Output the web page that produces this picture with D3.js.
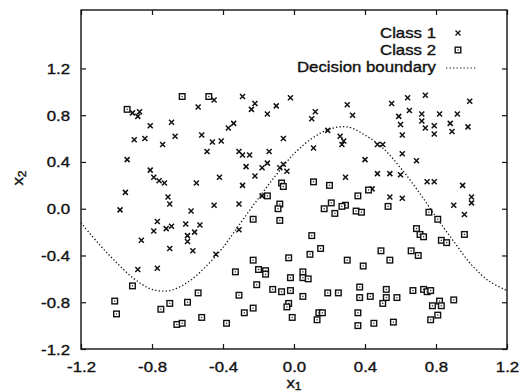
<!DOCTYPE html>
<html>
<head>
<meta charset="utf-8">
<script src="https://cdn.jsdelivr.net/npm/d3@7"></script>
<style>
body{margin:0;background:#fff;}
svg text{font-family:"Liberation Sans",Arial,sans-serif;font-size:14px;fill:#111;stroke:#111;stroke-width:0.35px;}
</style>
</head>
<body>
<div id="chart"></div>
<script>
//class 1 samples, drawn as crosses [x1,x2]
let class1Points=[
[-0.45,0.93],[-0.54,0.87],[-0.91,0.82],[-0.87,0.83],[-0.88,0.79],[-0.81,0.71],[-0.69,0.74],
[-0.90,0.59],[-0.84,0.60],[-0.67,0.62],[-0.74,0.55],[-0.52,0.63],[-0.46,0.57],[-0.41,0.58],
[-0.49,0.49],[-0.94,0.42],[-0.81,0.33],[-0.79,0.27],[-0.76,0.24],[-0.73,0.22],[-0.55,0.22],
[-0.42,0.27],[-0.95,0.14],[-0.71,0.10],[-0.70,0.04],[-0.98,-0.01],[-0.58,-0.02],[-0.45,0.03],
[-0.29,0.96],[-0.02,0.95],[-0.22,0.90],[-0.24,0.85],[-0.10,0.88],[-0.15,0.81],[-0.34,0.73],
[-0.37,0.69],[0.30,0.89],[0.12,0.83],[0.10,0.77],[0.33,0.80],[0.19,0.67],[-0.06,0.60],
[0.26,0.62],[0.28,0.58],[0.27,0.55],[0.11,0.52],[-0.31,0.49],[-0.29,0.46],[-0.25,0.46],
[-0.14,0.49],[0.40,0.42],[-0.27,0.36],[-0.18,0.35],[-0.15,0.39],[-0.06,0.38],[-0.08,0.35],
[-0.04,0.32],[-0.22,0.28],[0.29,0.27],[-0.29,0.20],[-0.18,0.11],[-0.31,0.04],
[-0.77,-0.11],[-0.79,-0.19],[-0.72,-0.17],[-0.69,-0.15],[-0.61,-0.13],[-0.53,-0.14],[-0.56,-0.20],
[-0.60,-0.23],[-0.60,-0.28],[-0.86,-0.27],[-0.70,-0.34],[-0.57,-0.36],[-0.44,-0.39],[-0.31,-0.18],
[-0.88,-0.52],[-0.77,-0.51],
[0.55,0.90],[0.64,0.95],[0.74,0.97],[0.99,0.92],[0.59,0.79],[0.60,0.72],[0.61,0.63],
[0.65,0.84],[0.72,0.81],[0.72,0.75],[0.82,0.81],[0.74,0.69],[0.79,0.71],[0.79,0.64],
[0.88,0.73],[0.89,0.66],[0.92,0.81],[0.98,0.70],[0.47,0.55],[0.50,0.55],[0.61,0.47],
[0.69,0.41],[0.47,0.30],[0.54,0.30],[0.60,0.29],[0.75,0.23],[0.79,0.23],[0.95,0.20],
[0.44,0.17],[0.54,0.10],[0.61,0.09],[1.00,0.10],[1.00,0.05],[0.90,0.03],[0.96,-0.05]
];

//class 2 samples, drawn as boxes [x1,x2]
let class2Points=[
[-0.63,0.96],[-0.48,0.96],[-0.94,0.85],[-0.91,-0.66],[-1.01,-0.79],[-1.00,-0.90],[-0.70,-0.81],
[-0.75,-0.86],[-0.60,-0.80],[-0.54,-0.72],[-0.52,-0.93],[-0.66,-0.99],[-0.63,-0.98],[-0.38,-0.98],
[-0.31,-0.74],[-0.33,-0.54],[-0.23,-0.44],[-0.20,-0.52],[-0.21,-0.65],[-0.23,-0.85],[-0.28,-0.89],
[-0.23,-0.09],[-0.07,0.22],[-0.06,0.19],[-0.15,0.11],[0.11,0.23],[0.20,0.20],[0.42,0.16],
[0.36,0.11],[-0.08,0.04],[-0.09,0.00],[0.21,0.05],[0.17,0.00],[0.23,-0.04],[0.29,0.03],
[0.27,0.02],[0.35,-0.02],[0.38,-0.03],[-0.08,-0.10],[0.10,-0.23],[0.15,-0.34],[0.09,-0.39],
[-0.03,-0.42],[0.30,-0.44],[0.39,-0.49],[-0.16,-0.53],[-0.16,-0.56],[0.05,-0.54],[-0.02,-0.59],
[0.05,-0.59],[0.08,-0.60],[0.37,-0.67],[-0.12,-0.69],[-0.07,-0.71],[-0.02,-0.70],[0.05,-0.75],
[0.19,-0.72],[0.25,-0.72],[0.37,-0.76],[-0.03,-0.81],[-0.04,-0.84],[0.14,-0.89],[0.16,-0.89],
[0.36,-0.89],[-0.01,-0.93],[0.13,-0.95],[0.36,-1.00],
[0.53,0.02],[0.76,-0.03],[0.81,-0.09],[0.96,-0.22],[0.69,-0.17],[0.71,-0.22],[0.73,-0.24],
[0.83,-0.27],[0.86,-0.29],[0.49,-0.36],[0.54,-0.44],[0.66,-0.36],[0.70,-0.40],[0.52,-0.69],
[0.43,-0.75],[0.52,-0.76],[0.50,-0.81],[0.58,-0.76],[0.67,-0.70],[0.73,-0.69],[0.75,-0.71],
[0.77,-0.70],[0.82,-0.79],[0.78,-0.83],[0.83,-0.83],[0.90,-0.78],[0.81,-0.91],[0.77,-0.95],
[0.45,-0.98],[0.56,-0.97]
];

//decision boundary
let boundaryPoints=[
[-1.2,-0.12],[-1.1,-0.30],[-1.0,-0.46],[-0.9,-0.60],[-0.8,-0.69],[-0.7,-0.70],[-0.6,-0.63],
[-0.5,-0.50],[-0.4,-0.33],[-0.3,-0.12],[-0.2,0.09],[-0.1,0.29],[0.0,0.47],[0.1,0.60],
[0.2,0.68],[0.3,0.70],[0.4,0.63],[0.5,0.52],[0.6,0.35],[0.7,0.15],[0.8,-0.07],
[0.9,-0.28],[1.0,-0.48],[1.1,-0.62],[1.2,-0.70]
];

let xTicks=[-1.2,-0.8,-0.4,0.0,0.4,0.8,1.2];
let yTicks=[-1.2,-0.8,-0.4,0.0,0.4,0.8,1.2];
let legendLabels=[`Class 1`,`Class 2`,`Decision boundary`];

let Setting={width:519,height:392,margin:{top:10,right:12,bottom:43,left:81},stretch:1.2};

let svg=d3.select(`#chart`).append(`svg`)
    .attr(`width`,Setting.width)
    .attr(`height`,Setting.height);

let width=Setting.width-Setting.margin.left-Setting.margin.right;
let height=Setting.height-Setting.margin.top-Setting.margin.bottom;

let graph=svg.append(`g`)
    .attr(`transform`,`translate(`+Setting.margin.left+`,`+Setting.margin.top+`)`);

let x=d3.scaleLinear().domain([-1.2,1.2]).range([0,width]);
let y=d3.scaleLinear().domain([-1.2,1.7]).range([height,0]);
let fmt=d=>d.toFixed(1);

//axes, ticks point inwards on all four sides
graph.append(`g`)
    .attr(`class`,`x axis`)
    .attr(`transform`,`translate(0,`+height+`)`)
    .call(d3.axisBottom(x).tickValues(xTicks).tickSize(-5).tickFormat(fmt))
    .call(g=>g.select(`.domain`).remove())
    .selectAll(`text`)
        .attr(`y`,null).attr(`dy`,null)
        .attr(`transform`,`translate(0,23) scale(${Setting.stretch},1)`);

graph.append(`g`)
    .attr(`class`,`y axis`)
    .call(d3.axisLeft(y).tickValues(yTicks).tickSize(-5).tickFormat(fmt))
    .call(g=>g.select(`.domain`).remove())
    .selectAll(`text`)
        .attr(`x`,null).attr(`dy`,null)
        .attr(`transform`,`translate(-11,5) scale(${Setting.stretch},1)`);

graph.append(`g`)
    .call(d3.axisTop(x).tickValues(xTicks).tickSize(-5).tickFormat(``))
    .call(g=>g.select(`.domain`).remove());

graph.append(`g`)
    .attr(`transform`,`translate(`+width+`,0)`)
    .call(d3.axisRight(y).tickValues(yTicks).tickSize(-5).tickFormat(``))
    .call(g=>g.select(`.domain`).remove());

graph.selectAll(`.tick line`).attr(`stroke`,`#111`).attr(`stroke-width`,1.2);

graph.append(`rect`)
    .attr(`width`,width).attr(`height`,height)
    .attr(`fill`,`none`).attr(`stroke`,`#111`).attr(`stroke-width`,1.4);

//axis titles
let xTitle=svg.append(`text`)
    .attr(`text-anchor`,`middle`)
    .attr(`transform`,`translate(294,388) scale(${Setting.stretch},1)`);
xTitle.append(`tspan`).text(`x`);
xTitle.append(`tspan`).attr(`font-size`,`10px`).attr(`dy`,2).text(`1`);

let yTitle=svg.append(`text`)
    .attr(`text-anchor`,`middle`)
    .attr(`transform`,`translate(23,178) rotate(-90) scale(${Setting.stretch},1)`);
yTitle.append(`tspan`).text(`x`);
yTitle.append(`tspan`).attr(`font-size`,`10px`).attr(`dy`,3).text(`2`);

//clip for the boundary
graph.append(`clipPath`).attr(`id`,`plotclip`)
    .append(`rect`).attr(`width`,width).attr(`height`,height);

let boundaryLine=d3.line()
    .x(d=>x(d[0]))
    .y(d=>y(d[1]))
    .curve(d3.curveCatmullRom);

graph.append(`path`)
    .datum(boundaryPoints)
    .attr(`clip-path`,`url(#plotclip)`)
    .attr(`fill`,`none`)
    .attr(`stroke`,`#111`)
    .attr(`stroke-width`,1.3)
    .attr(`stroke-dasharray`,`1.3,2.2`)
    .attr(`d`,boundaryLine);

let crossPath=`M-2.5,-2.5L2.5,2.5M-2.5,2.5L2.5,-2.5`;

function drawBox(sel){
    sel.append(`rect`)
        .attr(`x`,-2.8).attr(`y`,-2.8).attr(`width`,5.6).attr(`height`,5.6)
        .attr(`fill`,`#fff`).attr(`stroke`,`#111`).attr(`stroke-width`,1.4);
    sel.append(`rect`)
        .attr(`x`,-0.6).attr(`y`,-0.6).attr(`width`,1.2).attr(`height`,1.2)
        .attr(`fill`,`#111`);
}

//data insert
graph.append(`g`)
    .attr(`class`,`class1`)
    .selectAll(`path`)
    .data(class1Points)
    .enter()
    .append(`path`)
    .attr(`d`,crossPath)
    .attr(`stroke`,`#111`)
    .attr(`stroke-width`,1.5)
    .attr(`transform`,d=>`translate(${x(d[0])},${y(d[1])})`);

graph.append(`g`)
    .attr(`class`,`class2`)
    .selectAll(`g`)
    .data(class2Points)
    .enter()
    .append(`g`)
    .attr(`transform`,d=>`translate(${x(d[0])},${y(d[1])})`)
    .call(drawBox);

//legend
let legend=svg.append(`g`).attr(`class`,`legend`);
legendLabels.forEach((label,i)=>{
    let cy=33+i*17;
    legend.append(`text`)
        .attr(`text-anchor`,`end`)
        .attr(`transform`,`translate(436,${cy+5}) scale(${Setting.stretch},1)`)
        .text(label);
    let mark=legend.append(`g`).attr(`transform`,`translate(458,${cy})`);
    if(i==0) mark.append(`path`).attr(`d`,crossPath).attr(`stroke`,`#111`).attr(`stroke-width`,1.3);
    else if(i==1) mark.call(drawBox);
    else legend.append(`line`)
        .attr(`x1`,446).attr(`x2`,476).attr(`y1`,cy+1).attr(`y2`,cy+1)
        .attr(`stroke`,`#111`).attr(`stroke-width`,1.2)
        .attr(`stroke-dasharray`,`1.3,2.2`);
});
</script>
</body>
</html>
